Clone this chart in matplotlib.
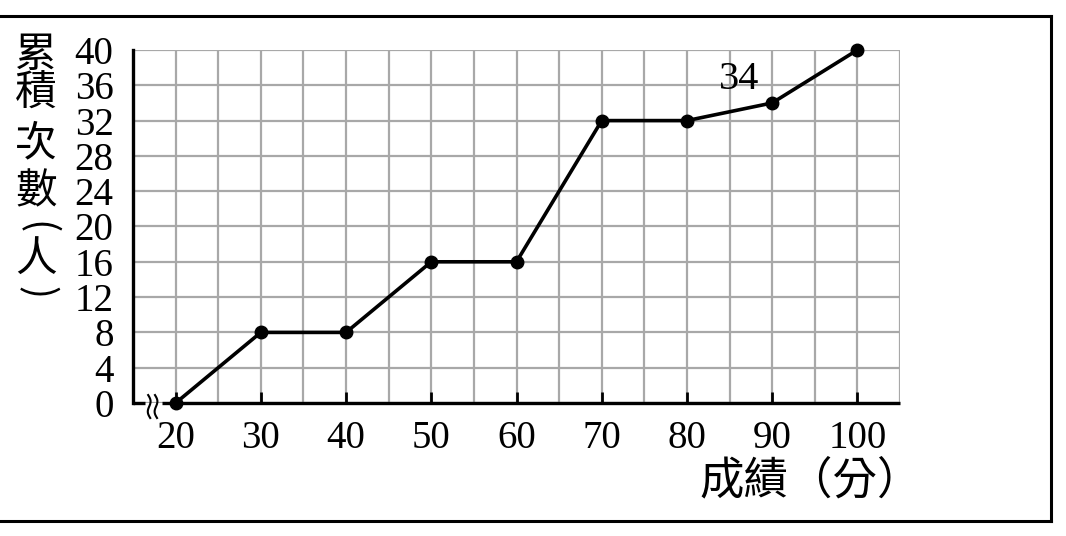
import matplotlib
matplotlib.use("Agg")
import matplotlib.pyplot as plt
from matplotlib.lines import Line2D
import numpy as np

# data
scores = [20, 30, 40, 50, 60, 70, 80, 90, 100]
cum_counts = [0, 8, 8, 16, 16, 32, 32, 34, 40]
x_ticks = [20, 30, 40, 50, 60, 70, 80, 90, 100]
y_ticks = [0, 4, 8, 12, 16, 20, 24, 28, 32, 36, 40]
x_grid = list(range(15, 106, 5))
ylabel_chars = ["累", "積", "次", "數", "(", "人", ")"]
ylabel_pos = [55, 94, 144, 192, 228, 260, 293]   # pixel rows of the stacked label
ylabel_rot = [0, 0, 0, 0, -90, 0, -90]
xlabel_text = "成績（分）"
note_label = "34"

serif = ["Liberation Serif", "DejaVu Serif"]
cjk = ["Noto Sans CJK TC", "DejaVu Sans"]

fig = plt.figure(figsize=(10.66, 5.36), dpi=100)
ax = fig.add_axes([133/1066, 1-403/536, (900-133)/1066, (403-50)/536])
ax.set_xlim(15, 105)
ax.set_ylim(0, 40)

# grid
for gx in x_grid:
    ax.axvline(gx, color="#a8a8a8", lw=1.6, zorder=1)
for gy in y_ticks:
    ax.axhline(gy, color="#a8a8a8", lw=1.6, zorder=1)

for s in ["top", "right", "bottom"]:
    ax.spines[s].set_visible(False)
ax.spines["left"].set_linewidth(2.4)
ax.spines["left"].set_zorder(3)

# bottom axis with break mark
ax.plot([15, 16.4], [0, 0], color="black", lw=2.4, clip_on=False, zorder=3, solid_capstyle="butt")
ax.plot([18.4, 105], [0, 0], color="black", lw=2.4, clip_on=False, zorder=3, solid_capstyle="butt")
t = np.linspace(-1, 1, 40)
for off in (16.9, 17.7):
    ax.plot(off + 0.22 * np.sin(t * np.pi) - 0.12 * t, t * 1.3 - 0.4, color="black", lw=1.5,
            clip_on=False, zorder=3)

ax.set_xticks(x_ticks)
ax.set_yticks(y_ticks)
ax.tick_params(axis="x", direction="in", length=8, width=2, pad=12, colors="black")
ax.tick_params(axis="y", length=0, pad=14)
for lab in ax.get_xticklabels() + ax.get_yticklabels():
    lab.set_fontfamily(serif)
    lab.set_fontsize(28)

# data line
ax.plot(scores, cum_counts, color="black", lw=2.6, marker="o", ms=9,
        clip_on=False, zorder=5)
ax.annotate(note_label, xy=(scores[7], cum_counts[7]), xytext=(-24, 17),
            textcoords="offset points", ha="center", va="center",
            fontsize=29, family=serif)

# axis labels
for ch, py, rot in zip(ylabel_chars, ylabel_pos, ylabel_rot):
    fig.text(36/1066, 1-py/536, ch, ha="center", va="center", rotation=rot,
             fontsize=30 if rot == 0 else 28, family=cjk)
fig.text(922/1066, 1-480/536, xlabel_text, ha="right", va="center",
         fontsize=32, family=cjk)

# outer frame
fy_top = 1 - 16/536
fy_bot = 1 - 521/536
fx_r = 1051/1066
for xs, ys in [([0, fx_r], [fy_top, fy_top]), ([0, fx_r], [fy_bot, fy_bot]),
               ([fx_r, fx_r], [fy_top, fy_bot])]:
    fig.add_artist(Line2D(xs, ys, color="black", lw=2.2, transform=fig.transFigure))

fig.savefig("out.png", dpi=100)
